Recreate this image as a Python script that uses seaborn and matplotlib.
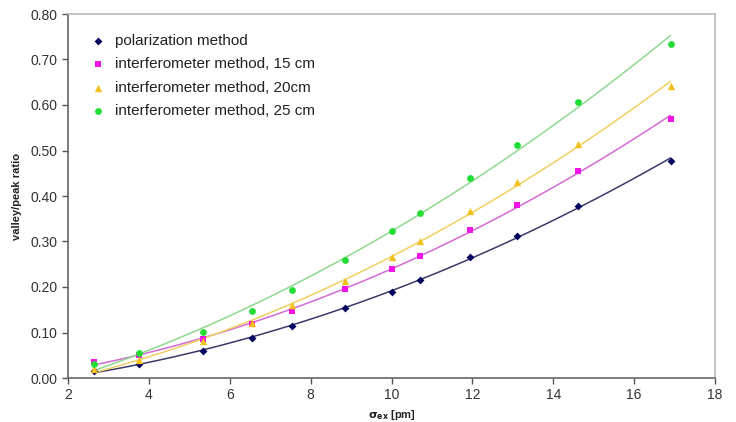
import matplotlib
matplotlib.use("Agg")
import matplotlib.pyplot as plt
import seaborn as sns
import numpy as np
import pandas as pd

sigma_ex = [2.65, 3.75, 5.35, 6.55, 7.55, 8.85, 10.0, 10.7, 11.95, 13.1, 14.6, 16.9]
polarization = [0.015, 0.030, 0.060, 0.088, 0.115, 0.153, 0.190, 0.215, 0.265, 0.313, 0.378, 0.478]
interf_15 = [0.035, 0.050, 0.085, 0.118, 0.148, 0.195, 0.240, 0.268, 0.325, 0.380, 0.456, 0.570]
interf_20 = [0.020, 0.040, 0.082, 0.120, 0.160, 0.213, 0.265, 0.302, 0.368, 0.430, 0.515, 0.642]
interf_25 = [0.030, 0.055, 0.102, 0.147, 0.193, 0.260, 0.322, 0.363, 0.440, 0.512, 0.607, 0.735]

series_names = ["polarization method", "interferometer method, 15 cm",
                "interferometer method, 20cm", "interferometer method, 25 cm"]
series_vals = [polarization, interf_15, interf_20, interf_25]
marker_colors = ["#00005e", "#f014e6", "#f2c01a", "#22dd33"]
line_colors = ["#3a3a6a", "#d46ad4", "#f0d060", "#8fd88f"]
markers = ["D", "s", "^", "o"]
msizes = [16, 24, 28, 24]

sns.set_theme(style="white")
plt.rcParams["font.family"] = ["Liberation Sans", "DejaVu Sans"]

fig = plt.figure(figsize=(7.36, 4.22), dpi=100)
ax = fig.add_axes([68/736, 1-378/422, (715-68)/736, (378-14)/422])

for name, vals, mc, lc, mk, ms in zip(series_names, series_vals, marker_colors, line_colors, markers, msizes):
    df = pd.DataFrame({"x": sigma_ex, "y": vals})
    sns.regplot(data=df, x="x", y="y", order=2, ci=None, scatter=False, ax=ax,
                line_kws=dict(color=lc, lw=1.1))
    sns.scatterplot(data=df, x="x", y="y", ax=ax, color=mc, marker=mk, s=ms,
                    edgecolor=mc, linewidth=0, label=name, zorder=5)

ax.set_xlim(2, 18)
ax.set_ylim(0, 0.8)
ax.set_xticks(np.arange(2, 19, 2))
ax.set_yticks(np.arange(0, 0.81, 0.1))
ax.yaxis.set_major_formatter(matplotlib.ticker.FormatStrFormatter("%.2f"))
ax.tick_params(axis="both", which="major", direction="out", length=4, width=1,
               colors="#555555", labelcolor="#333333", labelsize=10, left=True, bottom=True)
for s in ["left", "bottom"]:
    ax.spines[s].set_color("#666666")
    ax.spines[s].set_linewidth(1.2)
for s in ["top", "right"]:
    ax.spines[s].set_color("#bbbbbb")
    ax.spines[s].set_linewidth(1.2)

ax.set_xlabel(r"$\mathbf{\sigma_{ex}}$ [pm]", fontsize=8, fontweight="bold", color="#222222", labelpad=4)
ax.set_ylabel("valley/peak ratio", fontsize=8, fontweight="bold", color="#222222", labelpad=6)

leg = ax.legend(loc="upper left", frameon=False, fontsize=11, markerscale=1.0,
                handlelength=1.2, handletextpad=0.55, labelspacing=0.62, borderaxespad=0.0,
                bbox_to_anchor=(0.022, 0.962))
for t in leg.get_texts():
    t.set_color("#222222")

fig.savefig("out.png", dpi=100)
